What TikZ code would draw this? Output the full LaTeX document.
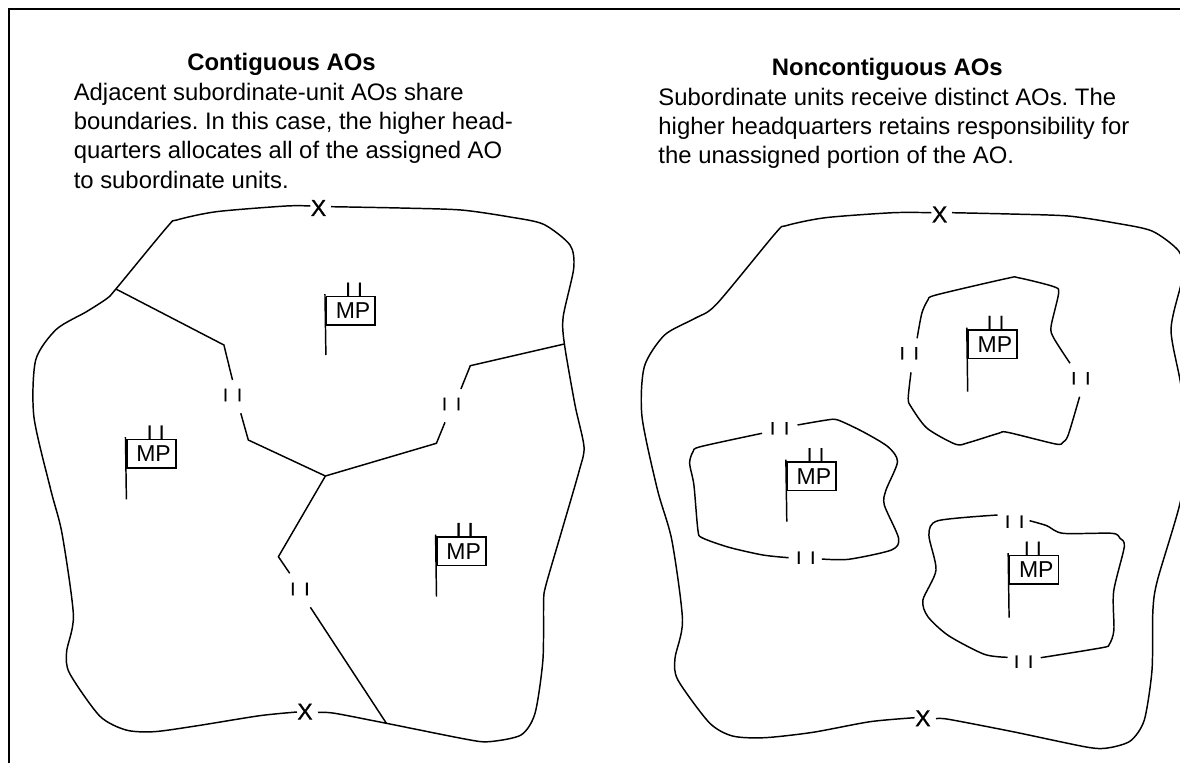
\documentclass[tikz,border=0pt]{standalone}
\usepackage{fontspec}
\setmainfont{Liberation Sans}
\newfontfamily\heavyfont[FakeBold=0.8]{Liberation Sans}
\frenchspacing
\newcommand{\bodyfont}{\fontsize{17.9pt}{22pt}\selectfont}
\newcommand{\twoI}[2]{{\heavyfont\fontsize{#1}{#1}\selectfont I\hspace{#2}I}}
\newcommand{\mpsym}[5]{% name, cx, cy, staff end y, tick x
  \node[mpbox] (#1) at (#2,#3) {\hspace{3.4pt}MP};
  \coordinate (#1s) at (#2-24.9,#4);
  \draw[bound] (#1.north west) ++(-0.6,-1.5) -- (#1s);
  \node[tick] (#1t) at (#5,#3-21.5) {\twoI{14.6pt}{4.93pt}};
}
\tikzset{
  bound/.style={line width=1.1pt,black},
  frameline/.style={line width=1.6pt,black},
  mpbox/.style={draw,line width=1.25pt,inner sep=0pt,minimum width=36.6pt,minimum height=21.4pt,font=\fontsize{17.25pt}{18pt}\selectfont},
  tick/.style={inner sep=0pt},
  marktwo/.style={inner sep=0pt},
  letterx/.style={inner sep=0pt,font=\heavyfont\fontsize{17.3pt}{18pt}\selectfont},
  para/.style={inner sep=0pt,align=left,anchor=north west,font=\bodyfont},
  ttl/.style={inner sep=0pt,anchor=base,font=\bodyfont\bfseries}
}
\begin{document}
\begin{tikzpicture}[x=0.75pt,y=-0.75pt]
\useasboundingbox (0,0) rectangle (1180,763);
\clip (0,0) rectangle (1180,763);
% frame
\coordinate (fa) at (8.8,763);
\coordinate (fb) at (8.8,9);
\coordinate (fc) at (1180,9);
\draw[frameline,line join=miter] (fa) -- (fb) -- (fc);
% titles and texts
\node[ttl] (t1) at (281.5,71) {Contiguous AOs};
\node[para] (p1) at (73.5,82.6) {Adjacent subordinate-unit AOs share\\boundaries. In this case, the higher head-\\quarters allocates all of the assigned AO\\to subordinate units.};
\node[ttl] (t2) at (887.3,76) {Noncontiguous AOs};
\node[para] (p2) at (658.2,87.6) {Subordinate units receive distinct AOs. The\\higher headquarters retains responsibility for\\the unassigned portion of the AO.};
% left outer boundary
\node[letterx] (x1) at (318.5,208) {X};
\node[letterx] (x2) at (305,711.7) {X};
\coordinate (j1) at (115.9,289);
\coordinate (j2) at (564.4,344);
\coordinate (j3) at (386.4,723.3);
\coordinate (j0) at (325.4,476);
\draw[bound] plot[smooth,tension=.45] coordinates {(331,206.7) (400,208) (461,210) (510,217) (543.6,224.3) (570,245) (573.7,268.3) (563.2,316.7) (564.4,344) (575,405) (584,446.7) (579.4,470) (562,530) (545.5,586.7) (543.6,603.3) (542.9,660) (535,713.3) (521,735) (489,741.7) (466.5,739.3) (386.4,723.3) (334.8,713.3) (318,712.3)};
\draw[bound] plot[smooth,tension=.45] coordinates {(297,712) (259.6,715.7) (195.6,726) (154,731.7) (126,730) (99.7,716) (69.6,673.3) (66.6,651.7) (73.4,615) (62,533.3) (50.8,490) (33.9,416.7) (35.7,360) (56.4,329.3) (86.5,311.7) (107.2,298.3) (115.9,289) (167.4,226.7) (176.8,220) (216.3,211.7) (286,206) (310.4,206)};
% left internal boundaries
\node[marktwo] (m1) at (232.5,395) {\twoI{13.5pt}{6.75pt}};
\node[marktwo] (m2) at (451.5,404) {\twoI{13.5pt}{6.75pt}};
\node[marktwo] (m3) at (299.9,589) {\twoI{13.5pt}{6.75pt}};
\draw[bound] (j1) -- (223.9,345) -- (232.5,380);
\draw[bound] (240.8,413.3) -- (248.3,440) -- (j0);
\draw[bound] (j2) -- (470.3,365.7) -- (460.9,389);
\draw[bound] (445,422.3) -- (436.4,443.3) -- (j0);
\draw[bound] (j0) -- (278.4,556.7) -- (289.7,573.3);
\draw[bound] (310.4,607.3) -- (j3);
% left symbols
\mpsym{a1}{350.8}{310.8}{355}{354}
\mpsym{a2}{151.3}{453.7}{499.3}{155.7}
\mpsym{a3}{461.4}{551.2}{596.7}{464.6}
% right outer boundary
\node[letterx] (x3) at (939.6,214.5) {X};
\node[letterx] (x4) at (922.9,718.3) {X};
\draw[bound] plot[smooth,tension=.45] coordinates {(952,212.7) (1010,214) (1068,216) (1115,223) (1152,231) (1177.9,250) (1185,270) (1180,288.3) (1171,330) (1180,380) (1190,440) (1180,503.3) (1157.5,580) (1152.9,610) (1152,670) (1144.3,720) (1130.7,740.7) (1109.3,747.7) (1087.9,747.3) (1012.9,731.7) (948.6,719.3) (936,718.7)};
\draw[bound] plot[smooth,tension=.45] coordinates {(914.6,717.7) (870,721.7) (812.9,732.3) (764.6,737.7) (732.5,736) (709.3,722.7) (677.9,680) (675,658.3) (682.5,620) (671.8,540) (657.5,490) (642,416.7) (644.3,366.7) (664.6,335) (695,318.3) (716.4,304.3) (775.4,233.3) (786,225.7) (825.4,217.7) (893,212.7) (931.4,212.7)};
% region A
\node[marktwo] (m4) at (909.3,353.3) {\twoI{13.5pt}{6.75pt}};
\node[marktwo] (m5) at (1080.7,378.3) {\twoI{13.5pt}{6.75pt}};
\draw[bound] plot[smooth,tension=.45] coordinates {(917.1,338.3) (921.8,313.3) (927.9,300) (936,295) (1007.5,278.3) (1018.2,277.7) (1053.9,286.7) (1058.6,293.3) (1051,326.7) (1053.9,338.3) (1070,363.3)};
\draw[bound] plot[smooth,tension=.45] coordinates {(1079.6,396.7) (1068.2,435) (1062.9,442.3) (1055.7,444) (1007.5,432.3) (998.6,433.3) (968.2,442.7) (955.7,444.3) (927.1,428.3) (911,406.7) (908.2,398.3) (911,372.3)};
% region B
\node[marktwo] (m6) at (779.6,428.3) {\twoI{13.5pt}{6.75pt}};
\node[marktwo] (m7) at (805.7,557.7) {\twoI{13.5pt}{6.75pt}};
\draw[bound] plot[smooth,tension=.45] coordinates {(797.5,425) (827,420) (837.9,420) (862.9,431.7) (887.9,446.7) (897.5,461.7) (886,490) (884.3,505) (898.6,538.3) (891.4,550) (848.6,559.3) (821.8,559)};
\draw[bound] plot[smooth,tension=.45] coordinates {(788.6,557.7) (762.9,555) (728.9,547.3) (702,537.7) (697.9,530) (693.9,485) (689.6,463.3) (693,451.7) (700.4,446.7) (762,433.3)};
% region C
\node[marktwo] (m8) at (1014.6,521.7) {\twoI{13.5pt}{6.75pt}};
\node[marktwo] (m9) at (1023.6,661.7) {\twoI{13.5pt}{6.75pt}};
\draw[bound] plot[smooth,tension=.45] coordinates {(1029.6,520.7) (1046.8,525.7) (1062.9,533.3) (1112,533.3) (1120,538.3) (1124.3,546.7) (1113.6,591.7) (1113.9,630) (1109.3,644.3) (1102,647.7) (1040.7,657.7)};
\draw[bound] plot[smooth,tension=.45] coordinates {(1007.5,657.3) (984.3,654.3) (948.6,635.7) (927.9,616.7) (922.9,600) (936,570) (928.9,535) (937.9,520.7) (997.5,515)};
% right symbols
\mpsym{b1}{992.6}{344.2}{391.7}{995.5}
\mpsym{b2}{811.7}{476.3}{521.7}{815.5}
\mpsym{b3}{1034}{569.8}{617.7}{1032.8}
\end{tikzpicture}
\end{document}
